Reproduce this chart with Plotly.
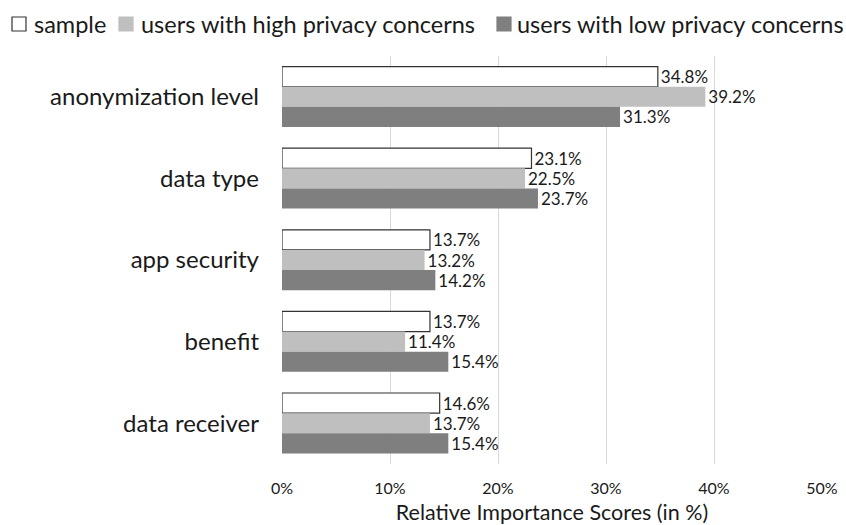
import plotly.graph_objects as go

# Attribute categories, top to bottom
categories = ["anonymization level", "data type", "app security", "benefit", "data receiver"]

# Relative importance scores (%) per group
sample = [34.8, 23.1, 13.7, 13.7, 14.6]
high_concern = [39.2, 22.5, 13.2, 11.4, 13.7]
low_concern = [31.3, 23.7, 14.2, 15.4, 15.4]

series_names = ["sample", "users with high privacy concerns", "users with low privacy concerns"]
x_ticks = [0, 10, 20, 30, 40, 50]
x_tick_labels = ["0%", "10%", "20%", "30%", "40%", "50%"]

FONT = "Lato, Open Sans, sans-serif"
W, H = 846, 525
L, R, T, B = 282, 24, 56, 61
fills = ["#ffffff", "#bfbfbf", "#7f7f7f"]
edges = ["#333333", "#bfbfbf", "#7f7f7f"]
edge_w = [1.2, 0, 0]

fig = go.Figure()
for name, vals, fc, ec, ew in zip(series_names, [sample, high_concern, low_concern], fills, edges, edge_w):
    fig.add_trace(go.Bar(
        y=categories, x=vals, orientation="h", name=name,
        marker=dict(color=fc, line=dict(color=ec, width=ew)),
        text=[f"{v:.1f}%" for v in vals], textposition="outside",
        constraintext="none",
        textfont=dict(family=FONT, size=17, color="#1a1a1a"),
        cliponaxis=False, showlegend=False,
    ))


def px_x(px):
    return (px - L) / (W - L - R)


def px_y(py):
    return (H - B - py) / (H - T - B)


# Legend row across the top: swatch + label for each series
legend_swatch_x = [12, 119, 497]
legend_text_x = [32, 139, 515]
for sx, tx, name, fc, ec in zip(legend_swatch_x, legend_text_x, series_names, fills, edges):
    fig.add_shape(
        type="rect", xref="paper", yref="paper",
        x0=px_x(sx), x1=px_x(sx + 14), y0=px_y(31), y1=px_y(17),
        fillcolor=fc, line=dict(color=ec if fc == "#ffffff" else fc, width=1.2),
    )
    fig.add_annotation(
        xref="paper", yref="paper", x=px_x(tx), y=px_y(24),
        xanchor="left", yanchor="middle", showarrow=False,
        text=name, font=dict(family=FONT, size=23.5, color="#1a1a1a"),
    )

fig.update_layout(
    width=W, height=H,
    margin=dict(l=L, r=R, t=T, b=B),
    paper_bgcolor="white", plot_bgcolor="white",
    barmode="group", bargap=0.26, bargroupgap=0,
    font=dict(family=FONT, color="#1a1a1a"),
    showlegend=False,
    xaxis=dict(
        range=[0, 50], tickvals=x_ticks, ticktext=x_tick_labels,
        showgrid=True, gridcolor="#d9d9d9", gridwidth=1,
        zeroline=False, showline=False, automargin=False,
        tickfont=dict(size=16, family=FONT), ticklabelstandoff=13,
        title=dict(text="Relative Importance Scores (in %)", font=dict(size=21.5, family=FONT), standoff=14),
    ),
    yaxis=dict(
        autorange="reversed", showgrid=False, zeroline=False, showline=False,
        automargin=False,
        tickfont=dict(size=24, family=FONT), ticklabelstandoff=22,
    ),
)
fig.write_html("out.html")
